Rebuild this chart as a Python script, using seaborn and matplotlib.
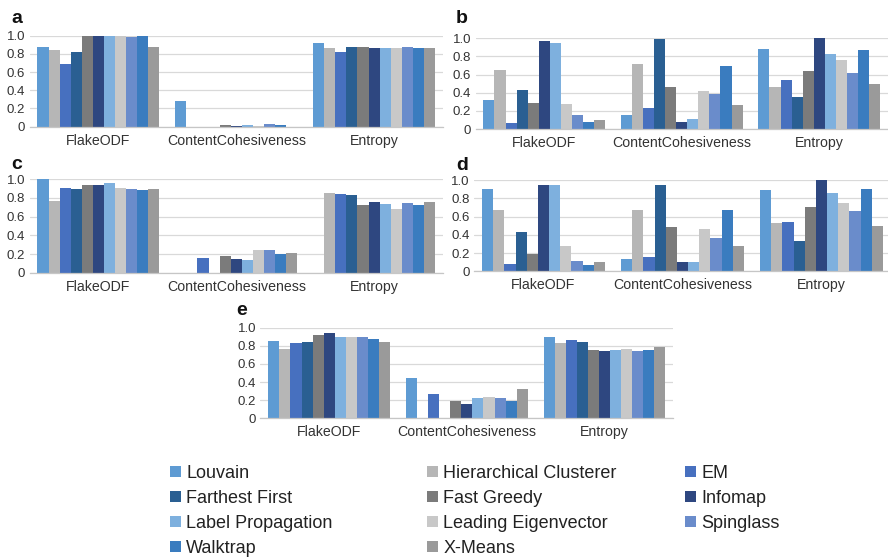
import matplotlib
matplotlib.use("Agg")
import matplotlib.pyplot as plt
from matplotlib.patches import Patch
from matplotlib.ticker import FuncFormatter
import seaborn as sns
import pandas as pd

metrics = ["FlakeODF", "ContentCohesiveness", "Entropy"]
algorithms = ["Louvain", "Hierarchical Clusterer", "EM", "Farthest First",
              "Fast Greedy", "Infomap", "Label Propagation",
              "Leading Eigenvector", "Spinglass", "Walktrap", "X-Means"]
colors = ["#5E9BD3", "#B6B6B6", "#4770BF", "#2A5F92", "#7B7B7B", "#2E4780",
          "#7EB0DE", "#C8C8C8", "#6A8CCB", "#3A7CBF", "#9A9A9A"]

# panel a
a_flake = [0.875, 0.84, 0.685, 0.817, 1.0, 1.0, 1.0, 1.0, 0.985, 1.0, 0.872]
a_cc = [0.28, 0, 0, 0, 0.015, 0.005, 0.015, 0.012, 0.035, 0.015, 0]
a_entropy = [0.923, 0.868, 0.824, 0.872, 0.872, 0.865, 0.87, 0.868, 0.872, 0.868, 0.868]
# panel b
b_flake = [0.316, 0.647, 0.066, 0.426, 0.29, 0.967, 0.949, 0.276, 0.15, 0.08, 0.095]
b_cc = [0.154, 0.717, 0.23, 0.99, 0.46, 0.073, 0.107, 0.415, 0.382, 0.70, 0.265]
b_entropy = [0.882, 0.46, 0.537, 0.357, 0.64, 1.0, 0.827, 0.761, 0.614, 0.875, 0.496]
# panel c
c_flake = [1.0, 0.768, 0.91, 0.9, 0.936, 0.936, 0.957, 0.907, 0.9, 0.882, 0.896]
c_cc = [0, 0, 0.154, 0, 0.182, 0.146, 0.132, 0.243, 0.246, 0.204, 0.207]
c_entropy = [0, 0.85, 0.846, 0.829, 0.725, 0.757, 0.732, 0.686, 0.743, 0.725, 0.761]
# panel d
d_flake = [0.898, 0.668, 0.077, 0.427, 0.19, 0.949, 0.942, 0.274, 0.11, 0.073, 0.1]
d_cc = [0.139, 0.668, 0.16, 0.945, 0.482, 0.106, 0.106, 0.464, 0.365, 0.672, 0.274]
d_entropy = [0.887, 0.526, 0.54, 0.332, 0.708, 1.0, 0.854, 0.745, 0.66, 0.901, 0.5]
# panel e
e_flake = [0.85, 0.768, 0.835, 0.842, 0.915, 0.941, 0.897, 0.897, 0.893, 0.879, 0.838]
e_cc = [0.441, 0, 0.265, 0, 0.195, 0.154, 0.22, 0.232, 0.22, 0.187, 0.324]
e_entropy = [0.9, 0.827, 0.864, 0.846, 0.754, 0.746, 0.754, 0.765, 0.746, 0.75, 0.783]

panels = {
    "a": (a_flake, a_cc, a_entropy),
    "b": (b_flake, b_cc, b_entropy),
    "c": (c_flake, c_cc, c_entropy),
    "d": (d_flake, d_cc, d_entropy),
    "e": (e_flake, e_cc, e_entropy),
}

sns.set_style("white")
plt.rcParams["font.family"] = ["Liberation Sans", "DejaVu Sans"]

W, H = 888, 557
fig = plt.figure(figsize=(W / 100, H / 100), dpi=100)

# axes boxes in pixels: left, top, right, bottom
boxes = {
    "a": (29.5, 35.7, 443, 126.7),
    "b": (475.5, 38.3, 888, 129),
    "c": (29.5, 179.3, 443, 272.7),
    "d": (474, 180, 891, 271.3),
    "e": (260.4, 327.7, 673.3, 418.3),
}
letters = {"a": (11.5, 22.7), "b": (456, 23), "c": (11.5, 169.3),
           "d": (456.5, 170), "e": (236.5, 315)}

palette = dict(zip(algorithms, colors))
fmt = FuncFormatter(lambda v, p: "0" if abs(v) < 1e-9 else f"{v:.1f}")

for key, vals in panels.items():
    l, t, r, b = boxes[key]
    ax = fig.add_axes([l / W, 1 - b / H, (r - l) / W, (b - t) / H])
    rows = []
    for m, series in zip(metrics, vals):
        for alg, v in zip(algorithms, series):
            rows.append({"metric": m, "algorithm": alg, "score": v})
    df = pd.DataFrame(rows)
    sns.barplot(data=df, x="metric", y="score", hue="algorithm",
                order=metrics, hue_order=algorithms, palette=palette,
                saturation=1, width=0.885, errorbar=None, legend=False,
                linewidth=0, ax=ax)
    ax.set_xlim(-0.5, 2.5)
    ax.set_ylim(0, 1.0)
    ax.set_yticks([0, 0.2, 0.4, 0.6, 0.8, 1.0])
    ax.yaxis.set_major_formatter(fmt)
    ax.yaxis.grid(True, color="#D9D9D9", lw=0.9)
    ax.set_axisbelow(True)
    for s in ["top", "right", "left"]:
        ax.spines[s].set_visible(False)
    ax.spines["bottom"].set_color("#C6C6C6")
    ax.spines["bottom"].set_linewidth(0.9)
    ax.set_xlabel("")
    ax.set_ylabel("")
    ax.tick_params(axis="y", length=0, pad=3.2, labelsize=9.5, labelcolor="#333333")
    ax.tick_params(axis="x", length=0, pad=5, labelsize=10.2, labelcolor="#333333")
    lx, ly = letters[key]
    fig.text(lx / W, 1 - ly / H, key, fontsize=14, fontweight="bold",
             va="baseline", ha="left", color="#111111")

# legend: three columns, filled row by row like the original
legend_cols = [
    [0, 3, 6, 9],
    [1, 4, 7, 10],
    [2, 5, 8],
]
col_x = [170, 427, 685]
for idxs, x in zip(legend_cols, col_x):
    handles = [Patch(facecolor=colors[i], edgecolor="none") for i in idxs]
    labels = [algorithms[i] for i in idxs]
    fig.legend(handles, labels, loc="upper left",
               bbox_to_anchor=(x / W, 1 - 465 / H), frameon=False,
               fontsize=13, handlelength=0.6, handleheight=0.55,
               handletextpad=0.3, labelspacing=0.44, borderpad=0,
               borderaxespad=0, labelcolor="#222222")

fig.savefig("out.png", dpi=100)
